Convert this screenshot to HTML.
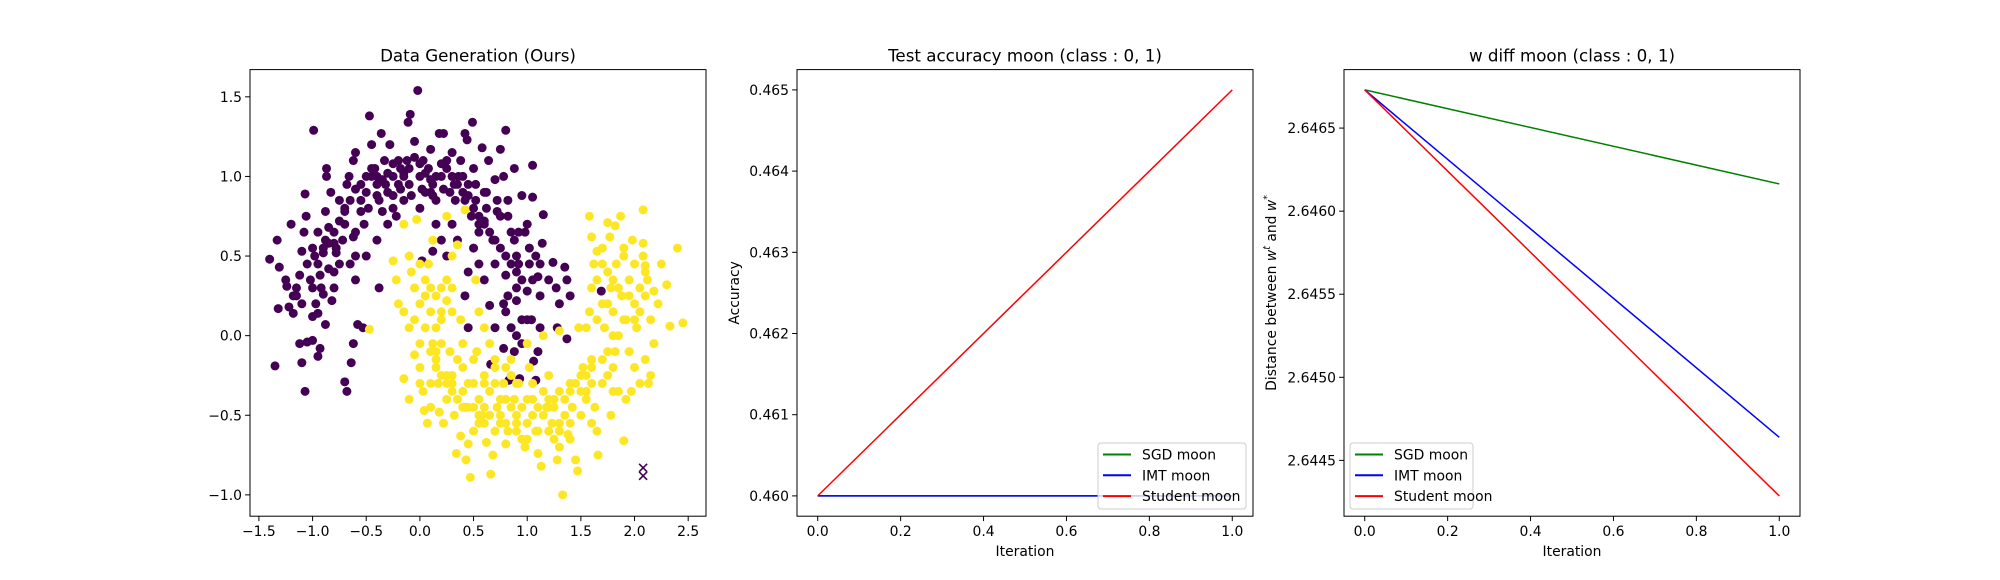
<!DOCTYPE html>
<html><head><meta charset="utf-8">
<style>
html,body{margin:0;padding:0;background:#fff;}
svg{display:block;font-family:"DejaVu Sans","Liberation Sans",sans-serif;}
</style></head>
<body>
<svg id="fig" width="2000" height="580" viewBox="0 0 2000 580" xmlns="http://www.w3.org/2000/svg"></svg>
<script>
// ---- Panel 1 data: moons scatter ----
const purpleX=[-1.4,-1.33,-1.31,-1.32,-1.2,-1.24,-1.22,-1.18,-1.15,-1.12,-1.1,-1.08,-1.06,-1.05,-1.02,-1.0,-0.98,-0.97,-0.95,-0.93,-0.9,-0.88,-0.85,-0.83,-0.87,-0.87,-1.07,-0.99,-1.35,-1.1,-1.07,-1.12,-1.05,-1.0,-0.95,-0.93,-0.88,-0.9,-0.82,-0.8,-0.78,-0.75,-0.72,-0.7,-0.68,-0.66,-0.62,-0.6,-0.55,-0.52,-0.5,-0.47,-0.45,-0.42,-0.4,-0.38,-0.36,-0.33,-0.3,-0.28,-0.25,-0.22,-0.2,-0.18,-0.15,-0.12,-0.1,-0.11,-0.09,-0.02,-0.05,0.0,0.03,0.05,0.08,0.1,0.12,0.15,0.18,0.2,0.22,0.25,0.28,0.3,0.33,0.36,0.38,0.42,0.44,0.49,0.45,0.48,0.5,0.52,0.55,0.58,0.6,0.62,0.64,0.68,0.7,0.75,0.78,0.8,0.82,0.85,0.88,0.9,0.92,0.88,0.95,1.05,1.05,1.0,1.02,1.05,1.08,1.15,1.14,1.12,1.1,1.2,1.24,1.27,1.3,1.35,1.37,1.4,1.28,1.37,1.12,1.1,1.06,1.08,0.95,0.9,0.85,0.8,0.78,0.82,0.9,0.95,1.0,1.04,0.7,0.65,0.6,0.55,0.5,0.45,0.42,0.45,0.66,0.78,0.88,0.83,0.93,0.02,-0.38,-0.58,-0.53,-0.62,-0.64,-0.7,-0.68,-0.6,-0.6,-0.65,-0.4,-0.5,1.69,0.15,0.2,0.3,0.35,-0.3,-0.35,0.12,0.25,-0.75,-0.45,-0.25,0.0,0.6,0.72,0.98,-0.8,-0.6,0.4,0.1,-0.15,0.55,0.75,
-0.95,-0.9,-0.85,-0.8,-0.75,-0.7,-0.65,-0.6,-0.55,-0.5,-0.45,-0.4,-0.35,-0.3,-0.25,-0.2,-0.15,-0.1,-0.05,0.0,0.05,0.1,0.15,0.2,0.25,0.3,0.35,0.4,0.45,0.5,0.55,0.6,0.65,0.7,0.75,0.8,0.85,0.9,0.95,1.0,-1.15,-1.1,-1.0,-0.92,-0.85,-0.78,-0.7,-0.62,-0.55,-0.48,-0.4,-0.32,-0.25,-0.18,-0.08,0.02,0.12,0.22,0.32,0.42,0.52,0.62,0.72,0.82,0.92,1.02,1.12,0.7,0.8,0.9,-1.25,-1.18,-1.0,-0.95,-0.88,-0.8];
const purpleY=[0.48,0.6,0.43,0.17,0.7,0.31,0.18,0.14,0.25,0.38,0.53,0.65,0.75,0.45,0.35,0.3,0.5,0.2,0.14,0.38,0.55,0.6,0.68,0.9,1.05,1.0,0.89,1.29,-0.19,-0.17,-0.35,-0.05,-0.04,-0.03,-0.13,-0.08,0.07,0.26,0.22,0.4,0.52,0.45,0.6,0.8,0.95,1.0,1.1,1.15,0.85,0.7,0.9,1.38,1.2,1.05,0.95,0.85,1.27,1.1,0.9,1.2,1.0,0.75,0.95,1.05,0.85,1.1,0.95,1.34,1.39,1.54,1.22,1.0,1.1,0.9,1.05,1.17,0.95,0.85,1.27,1.0,1.27,1.1,0.9,1.15,0.85,1.0,1.1,1.27,1.23,1.34,0.95,0.75,1.05,0.85,0.65,1.18,0.7,0.8,1.1,0.6,0.98,1.17,1.0,1.29,0.75,0.65,0.6,0.5,0.45,1.05,0.88,0.87,1.07,0.7,0.55,0.35,0.5,0.76,0.58,0.45,0.37,0.35,0.46,0.3,0.2,0.43,0.35,0.25,0.05,-0.02,0.05,-0.1,-0.16,-0.28,-0.05,0.0,0.05,0.15,0.2,0.25,0.3,0.1,0.1,0.1,0.05,0.19,0.35,0.45,0.55,0.4,0.25,0.05,-0.18,-0.08,-0.1,-0.28,-0.27,0.47,0.3,0.07,0.05,-0.05,-0.17,-0.29,-0.35,0.35,0.5,0.45,0.6,0.5,0.28,0.7,0.6,0.7,0.6,0.7,0.78,0.53,0.5,0.85,1.0,0.8,0.8,0.9,0.85,0.65,0.3,0.65,1.0,0.9,1.02,0.7,0.75,
0.45,0.52,0.58,0.65,0.72,0.78,0.85,0.92,0.95,1.0,1.05,1.0,0.98,1.02,1.08,1.1,1.0,1.05,1.12,1.08,1.02,0.98,1.0,1.08,1.05,1.0,0.95,0.9,0.88,0.8,0.75,0.72,0.65,0.6,0.55,0.5,0.45,0.4,0.35,0.28,0.3,0.2,0.12,0.3,0.42,0.55,0.7,0.62,0.78,0.8,0.88,0.95,0.88,0.92,0.88,0.92,0.88,0.92,0.95,0.85,0.95,0.9,0.78,0.85,0.65,0.45,0.25,0.45,0.38,0.22,0.35,0.25,0.55,0.65,0.78,0.58];
const yellowX=[-0.47,-0.15,-0.03,0.25,0.42,-0.25,-0.22,-0.2,-0.1,0.0,0.05,0.1,0.15,0.2,0.25,0.3,0.35,0.12,0.08,-0.05,0.0,-0.15,-0.05,0.05,0.1,0.2,0.3,0.38,0.52,0.55,0.6,-0.15,-0.1,-0.05,0.0,0.03,0.04,0.07,0.1,0.12,0.15,0.18,0.22,0.25,0.28,0.3,0.32,0.34,0.38,0.4,0.42,0.43,0.45,0.47,0.5,0.53,0.55,0.58,0.6,0.62,0.65,0.66,0.68,0.7,0.72,0.75,0.78,0.8,0.82,0.85,0.88,0.9,0.92,0.95,0.98,1.0,1.02,1.05,1.08,1.1,1.13,1.15,1.18,1.2,1.23,1.25,1.28,1.3,1.33,1.35,1.38,1.4,1.42,1.45,1.47,1.5,1.48,1.52,1.55,1.6,1.63,1.65,1.66,1.7,1.75,1.78,1.8,1.82,1.85,1.9,1.92,1.95,1.97,2.0,2.05,2.1,2.13,2.15,2.18,1.55,1.58,1.6,1.62,1.65,1.7,1.72,1.75,1.78,1.8,1.83,1.85,1.88,1.9,1.92,1.95,1.98,2.0,2.02,2.05,2.08,2.1,2.12,2.15,2.18,2.22,2.25,2.3,2.33,2.4,2.45,2.08,1.87,1.75,1.58,1.6,1.65,1.7,1.77,1.82,2.08,2.1,1.3,1.15,1.0,0.85,0.65,0.7,0.5,0.35,0.2,0.17,0.6,0.75,1.05,1.2,1.4,1.6,1.8,0.45,0.9,1.25,0.25,0.1,0.0,0.3,0.15,0.8,1.0,1.3,1.55,1.75,1.95,0.55,0.4,0.05,-0.08,
0.15,0.2,0.25,0.3,0.35,0.4,0.45,0.5,0.55,0.6,0.65,0.7,0.75,0.8,0.85,0.9,0.95,1.0,1.05,1.1,1.15,1.2,1.25,1.3,1.35,1.4,1.45,1.5,1.55,1.6,0.2,0.3,0.4,0.5,0.6,0.7,0.8,0.9,1.0,1.1,1.2,1.3,1.4,1.5,1.6,1.7,1.8,1.9,2.0,2.1,1.65,1.75,1.85,1.95,2.05,1.7,1.8,1.9,2.0,0.05,0.15,0.25,-0.1,0.0,0.1];
const yellowY=[0.04,0.7,0.73,0.75,0.79,0.47,0.35,0.2,0.5,0.45,0.35,0.3,0.25,0.3,0.35,0.5,0.57,0.6,0.45,0.3,0.2,0.15,0.1,0.05,0.15,0.1,0.15,0.1,0.35,0.15,0.05,-0.27,-0.4,-0.12,-0.2,-0.35,-0.47,-0.55,-0.3,-0.05,-0.2,-0.48,-0.55,-0.25,-0.1,-0.35,-0.5,-0.74,-0.63,-0.2,-0.45,-0.78,-0.3,-0.89,-0.6,-0.1,-0.4,-0.5,-0.25,-0.67,-0.35,-0.87,-0.75,-0.15,-0.45,-0.55,-0.3,-0.68,-0.6,-0.15,-0.4,-0.5,-0.3,-0.65,-0.7,-0.4,-0.2,-0.5,-0.6,-0.74,-0.82,-0.35,-0.45,-0.25,-0.55,-0.4,-0.78,-0.7,-1.0,-0.5,-0.62,-0.3,-0.45,-0.78,-0.85,-0.35,0.05,-0.2,-0.4,-0.15,-0.45,-0.6,-0.75,-0.3,-0.25,-0.5,-0.2,-0.1,-0.35,-0.66,-0.4,-0.1,-0.35,-0.2,-0.3,-0.15,-0.3,-0.25,-0.05,0.05,0.15,0.3,0.45,0.35,0.2,0.05,0.4,0.3,0.15,0.45,0.0,0.25,0.5,0.1,0.35,0.6,0.2,0.05,0.3,0.5,0.25,0.35,0.1,0.28,0.2,0.45,0.32,0.06,0.55,0.08,0.79,0.75,0.71,0.75,0.62,0.53,0.55,0.62,0.69,0.58,0.44,0.03,0.0,-0.05,-0.25,-0.05,-0.2,-0.3,-0.15,-0.05,-0.3,-0.55,-0.4,-0.3,-0.45,-0.55,-0.55,-0.35,-0.68,-0.6,-0.65,-0.4,-0.45,-0.05,-0.3,-0.1,-0.2,-0.55,-0.6,-0.35,-0.1,-0.1,-0.55,-0.45,0.25,0.4,
-0.15,-0.25,-0.3,-0.25,-0.4,-0.35,-0.45,-0.45,-0.5,-0.45,-0.5,-0.6,-0.5,-0.55,-0.45,-0.55,-0.45,-0.55,-0.4,-0.45,-0.5,-0.4,-0.45,-0.35,-0.4,-0.35,-0.3,-0.25,-0.25,-0.2,0.15,0.3,-0.05,-0.15,-0.3,-0.3,-0.4,-0.3,-0.65,-0.6,-0.6,-0.55,-0.65,-0.5,-0.3,-0.15,0.0,0.1,0.1,0.4,0.1,0.2,0.3,0.25,0.15,0.45,0.35,0.55,0.45,0.25,0.05,0.22,0.05,-0.3,-0.1];
const crossX=[2.08,2.08];
const crossY=[-0.83,-0.88];
const p1XTicks=[-1.5,-1.0,-0.5,0.0,0.5,1.0,1.5,2.0,2.5];
const p1XLabels=["\u22121.5","\u22121.0","\u22120.5","0.0","0.5","1.0","1.5","2.0","2.5"];
const p1YTicks=[-1.0,-0.5,0.0,0.5,1.0,1.5];
const p1YLabels=["\u22121.0","\u22120.5","0.0","0.5","1.0","1.5"];

// ---- Panel 2 data: test accuracy ----
const iterations=[0,1];
const accSGD=[0.460,0.460];
const accIMT=[0.460,0.460];
const accStudent=[0.460,0.465];
const p2YTicks=[0.460,0.461,0.462,0.463,0.464,0.465];
const p2YLabels=["0.460","0.461","0.462","0.463","0.464","0.465"];
const iterTicks=[0.0,0.2,0.4,0.6,0.8,1.0];
const iterLabels=["0.0","0.2","0.4","0.6","0.8","1.0"];

// ---- Panel 3 data: w diff ----
const wSGD=[2.64673,2.646164];
const wIMT=[2.64673,2.644639];
const wStudent=[2.64673,2.644286];
const p3YTicks=[2.6445,2.6450,2.6455,2.6460,2.6465];
const p3YLabels=["2.6445","2.6450","2.6455","2.6460","2.6465"];

const NS="http://www.w3.org/2000/svg";
const svg=document.getElementById('fig');
function mk(tag,attrs,parent){const e=document.createElementNS(NS,tag);for(const k in attrs)e.setAttribute(k,attrs[k]);(parent||svg).appendChild(e);return e;}
function scale(d0,d1,r0,r1){return v=>r0+(v-d0)/(d1-d0)*(r1-r0);}

const T=69.6,B=516.2;
function axesFrame(g,L,R,sx,sy,xt,xl,yt,yl,name){
  mk('rect',{x:L,y:T,width:R-L,height:B-T,fill:'none',stroke:'#000','stroke-width':1,},g);
  xt.forEach((v,i)=>{const x=sx(v);
    mk('line',{x1:x,y1:B,x2:x,y2:B+4.9,stroke:'#000','stroke-width':1},g);
    const t=mk('text',{x:x,y:B+20,'font-size':13.9,'text-anchor':'middle',fill:'#000'},g);
    
    
    t.textContent=xl[i];});
  yt.forEach((v,i)=>{const y=sy(v);
    mk('line',{x1:L,y1:y,x2:L-4.9,y2:y,stroke:'#000','stroke-width':1},g);
    const t=mk('text',{x:L-8,y:y+5,'font-size':13.9,'text-anchor':'end',fill:'#000'},g);
    
    
    t.textContent=yl[i];});
}
function title(g,x,txt){const t=mk('text',{x:x,y:T-8,'font-size':16.7,'text-anchor':'middle',fill:'#000'},g);
  
  
  t.textContent=txt;}

// Panel 1
(function(){
  const L=250,R=706;
  const g=mk('g',{});
  
  
  const sx=scale(-1.583,2.666,L,R), sy=scale(-1.134,1.671,B,T);
  const pts=mk('g',{},g);
  purpleX.forEach((x,i)=>{const c=mk('circle',{cx:sx(x),cy:sy(purpleY[i]),r:4.5,fill:'#440154'},pts);
    
    });
  yellowX.forEach((x,i)=>{const c=mk('circle',{cx:sx(x),cy:sy(yellowY[i]),r:4.5,fill:'#fde725'},pts);
    
    });
  crossX.forEach((x,i)=>{const cx=sx(x),cy=sy(crossY[i]);
    const p=mk('path',{d:`M${cx-4} ${cy-4}L${cx+4} ${cy+4}M${cx-4} ${cy+4}L${cx+4} ${cy-4}`,stroke:'#440154','stroke-width':1.6},pts);
    
    });
  axesFrame(g,L,R,sx,sy,p1XTicks,p1XLabels,p1YTicks,p1YLabels,'scatter');
  title(g,(L+R)/2,'Data Generation (Ours)');
})();

function legend(g,x,y,w,h,name){
  const lg=mk('g',{},g);
  
  
  mk('rect',{x:x,y:y,width:w,height:h,rx:3,fill:'#fff','fill-opacity':0.8,stroke:'#ccc','stroke-width':1},lg);
  const items=[['SGD moon','#008000'],['IMT moon','#0000ff'],['Student moon','#ff0000']];
  items.forEach((it,i)=>{const yy=y+11.5+i*20.8;
    const l=mk('line',{x1:x+5,y1:yy,x2:x+33,y2:yy,stroke:it[1],'stroke-width':2},lg);
    
    
    const t=mk('text',{x:x+44,y:yy+5,'font-size':13.9,fill:'#000'},lg);
    
    
    t.textContent=it[0];});
}
function line(g,sx,sy,xs,ys,color,name){
  const d=xs.map((x,i)=>(i?'L':'M')+sx(x)+' '+sy(ys[i])).join('');
  const p=mk('path',{d:d,stroke:color,'stroke-width':1.5,fill:'none'},g);
  
  
}

// Panel 2
(function(){
  const L=797,R=1253;
  const g=mk('g',{});
  
  
  const sx=scale(-0.05,1.05,L,R), sy=scale(0.45975,0.46525,B,T);
  line(g,sx,sy,iterations,accSGD,'#008000','sgd-line');
  line(g,sx,sy,iterations,accIMT,'#0000ff','imt-line');
  line(g,sx,sy,iterations,accStudent,'#ff0000','student-line');
  axesFrame(g,L,R,sx,sy,iterTicks,iterLabels,p2YTicks,p2YLabels,'accuracy');
  title(g,(L+R)/2,'Test accuracy moon (class : 0, 1)');
  const xl=mk('text',{x:(L+R)/2,y:B+40,'font-size':13.9,'text-anchor':'middle'},g);
  
  
  xl.textContent='Iteration';
  const yl=mk('text',{x:0,y:0,'font-size':13.9,'text-anchor':'middle',transform:`translate(739,${(T+B)/2}) rotate(-90)`},g);
  
  
  yl.textContent='Accuracy';
  legend(g,1098,443,148,66,'accuracy-legend');
})();

// Panel 3
(function(){
  const L=1344,R=1800;
  const g=mk('g',{});
  
  
  const sx=scale(-0.05,1.05,L,R), sy=scale(2.644164,2.646852,B,T);
  line(g,sx,sy,iterations,wSGD,'#008000','sgd-line');
  line(g,sx,sy,iterations,wIMT,'#0000ff','imt-line');
  line(g,sx,sy,iterations,wStudent,'#ff0000','student-line');
  axesFrame(g,L,R,sx,sy,iterTicks,iterLabels,p3YTicks,p3YLabels,'wdiff');
  title(g,(L+R)/2,'w diff moon (class : 0, 1)');
  const xl=mk('text',{x:(L+R)/2,y:B+40,'font-size':13.9,'text-anchor':'middle'},g);
  
  
  xl.textContent='Iteration';
  const yl=mk('text',{x:0,y:0,'font-size':13.9,'text-anchor':'middle',transform:`translate(1276,${(T+B)/2}) rotate(-90)`},g);
  
  
  yl.innerHTML='Distance between <tspan font-style="italic">w</tspan><tspan font-style="italic" font-size="9.5" dy="-6">t</tspan><tspan dy="6"> and </tspan><tspan font-style="italic">w</tspan><tspan font-size="9.5" dy="-6">*</tspan>';
  legend(g,1350,443,123,66,'wdiff-legend');
})();
</script>
</body></html>
